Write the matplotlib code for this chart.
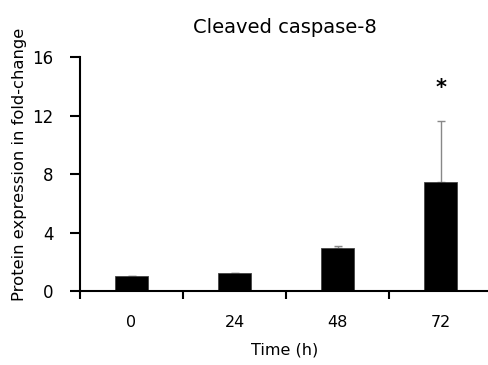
import matplotlib
matplotlib.use("Agg")
import matplotlib.pyplot as plt

# data
times = ["0", "24", "48", "72"]
fold_change = [1.0, 1.2, 2.95, 7.45]
sd_upper = [0.03, 0.05, 0.15, 4.15]
y_ticks = [0, 4, 8, 12, 16]

fig = plt.figure(figsize=(4.89, 3.65), dpi=100)
ax = fig.add_axes([0.1636, 0.2027, 0.8364, 0.6411])

pos = list(range(len(times)))
ax.bar(pos, fold_change, width=0.32, color="black", edgecolor="#444444", linewidth=0.6, zorder=2)
ax.errorbar(pos, fold_change, yerr=[[0] * len(pos), sd_upper], fmt="none",
            ecolor="#888888", elinewidth=1.0, capsize=3, capthick=1.0, zorder=1)

# significance mark over 72 h
ax.text(pos[3], 13.9, "*", ha="center", va="center", fontsize=15, fontweight="bold")

ax.set_xlim(-0.5, 3.47)
ax.set_ylim(0, 16)
ax.set_yticks(y_ticks)
ax.set_yticklabels([str(v) for v in y_ticks], fontsize=12)

# ticks between categories, labels centred under bars
ax.set_xticks([-0.5, 0.5, 1.5, 2.5])
ax.set_xticklabels([])
ax.set_xticks(pos, minor=True)
ax.set_xticklabels(times, minor=True, fontsize=11.5)
ax.tick_params(axis="x", which="minor", length=0, pad=17)
ax.tick_params(axis="x", which="major", direction="out", length=6, width=1.5)
ax.tick_params(axis="y", direction="out", length=7, width=1.5, pad=12)

for side in ["top", "right"]:
    ax.spines[side].set_visible(False)
for side in ["left", "bottom"]:
    ax.spines[side].set_linewidth(1.5)

ax.set_xlabel("Time (h)", fontsize=11.5, labelpad=9)
ax.set_ylabel("Protein expression in fold-change", fontsize=11.8, va="center")
ax.yaxis.set_label_coords(-0.148, 0.54)
ax.set_title("Cleaved caspase-8", fontsize=14, pad=17)

fig.savefig("out.png", dpi=100)
